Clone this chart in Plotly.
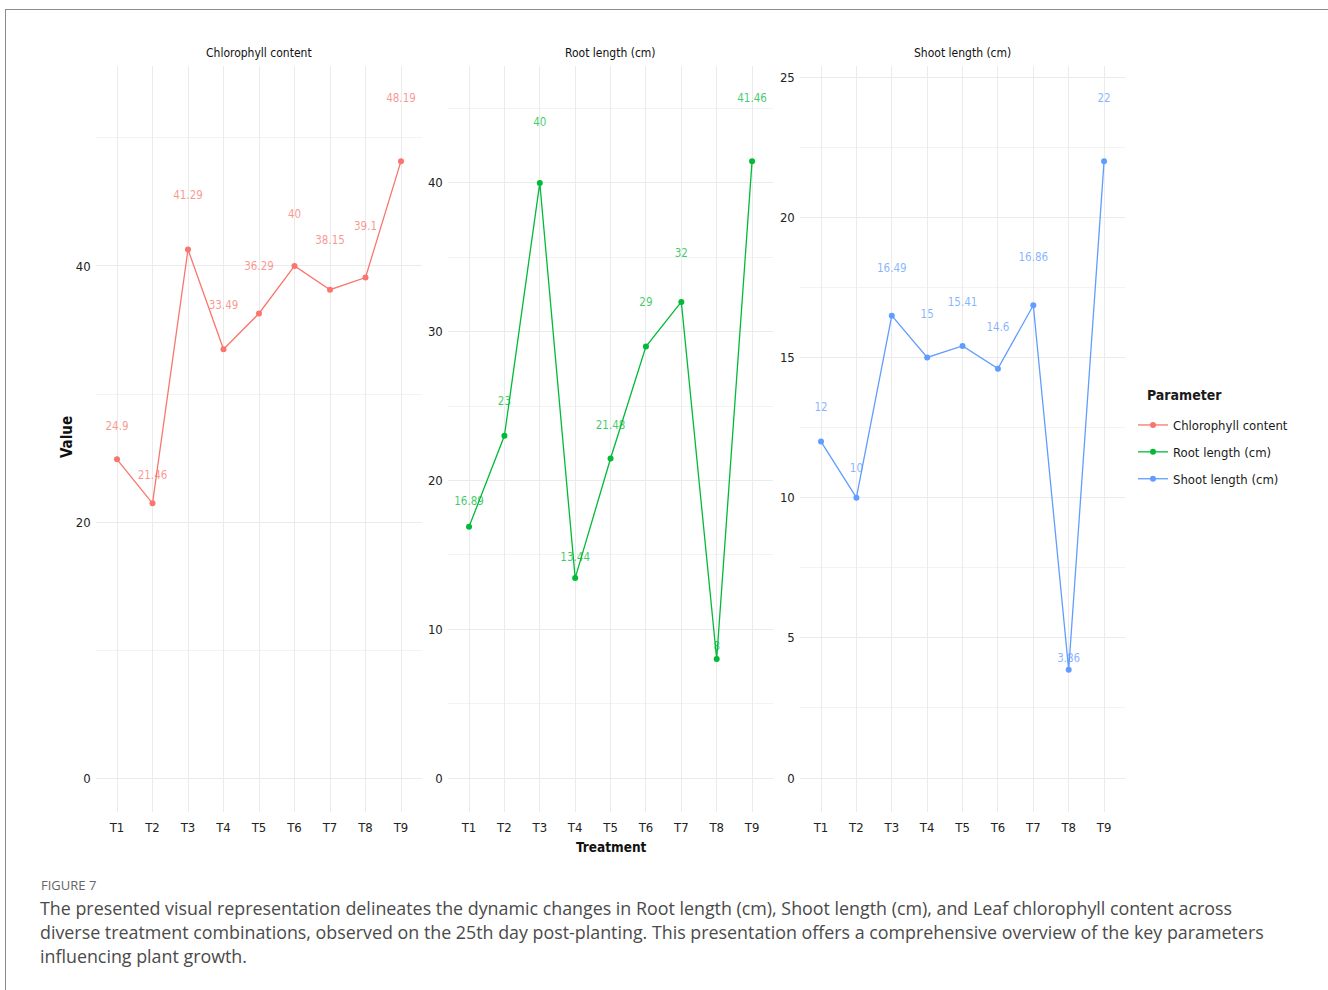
import plotly.graph_objects as go

W, H = 1328, 990

treatments = ["T1", "T2", "T3", "T4", "T5", "T6", "T7", "T8", "T9"]
chlorophyll = [24.9, 21.46, 41.29, 33.49, 36.29, 40, 38.15, 39.1, 48.19]
root_length = [16.89, 23, 40, 13.44, 21.48, 29, 32, 8, 41.46]
shoot_length = [12, 10, 16.49, 15, 15.41, 14.6, 16.86, 3.86, 22]

params = ["Chlorophyll content", "Root length (cm)", "Shoot length (cm)"]
series = [chlorophyll, root_length, shoot_length]
colors = ["#F8766D", "#00BA38", "#619CFF"]
label_colors = ["rgba(248,118,109,0.75)", "rgba(0,186,56,0.75)", "rgba(97,156,255,0.75)"]
y_ticks = [[0, 20, 40], [0, 10, 20, 30, 40], [0, 5, 10, 15, 20, 25]]
y_minor = [10, 5, 2.5]
y_ranges = [[-2.65, 55.66], [-2.28, 47.89], [-1.21, 25.41]]

FONT = "DejaVu Sans Condensed, Liberation Sans Narrow, Liberation Sans, Arial, sans-serif"
CAP_FONT = "Open Sans, Noto Sans, sans-serif"

panels_px = [(95.7, 422.3), (447.8, 773.3), (799.8, 1125.3)]
top_px, bot_px = 65.5, 812


def px_x(x):
    return x / W


def px_y(y):
    return 1 - y / H


fig = go.Figure()

for i, (name, vals, col, lcol) in enumerate(zip(params, series, colors, label_colors)):
    xa = "x" if i == 0 else f"x{i+1}"
    ya = "y" if i == 0 else f"y{i+1}"
    fig.add_trace(go.Scatter(
        x=treatments, y=vals, mode="lines+markers", name=name,
        line=dict(color=col, width=1.3), marker=dict(color=col, size=6),
        xaxis=xa, yaxis=ya, legendgroup=name, showlegend=True,
    ))
    fig.add_trace(go.Scatter(
        x=treatments, y=[v * 1.1 for v in vals], mode="text",
        text=[f"{v:g}" for v in vals], textposition="middle center",
        textfont=dict(family=FONT, size=11.5, color=lcol),
        xaxis=xa, yaxis=ya, showlegend=False, hoverinfo="skip",
    ))

layout = dict(
    width=W, height=H, margin=dict(l=0, r=0, t=0, b=0),
    paper_bgcolor="white", plot_bgcolor="white",
    font=dict(family=FONT, color="#333333"),
    legend=dict(
        x=px_x(1133), y=px_y(410), xanchor="left", yanchor="top",
        font=dict(family=FONT, size=13, color="#1a1a1a"),
        tracegroupgap=7, bgcolor="rgba(0,0,0,0)",
    ),
    showlegend=True,
)

for i in range(3):
    sfx = "" if i == 0 else str(i + 1)
    x0, x1 = panels_px[i]
    layout[f"xaxis{sfx}"] = dict(
        domain=[px_x(x0), px_x(x1)], anchor=f"y{sfx}",
        type="category", categoryorder="array", categoryarray=treatments,
        range=[-0.6, 8.6], showgrid=True, gridcolor="#EBEBEB", gridwidth=1,
        zeroline=False, showline=False, ticks="",
        tickfont=dict(family=FONT, size=13, color="#222222"),
        ticklabelstandoff=6,
    )
    layout[f"yaxis{sfx}"] = dict(
        domain=[px_y(bot_px), px_y(top_px)], anchor=f"x{sfx}",
        range=y_ranges[i], tickmode="array", tickvals=y_ticks[i],
        ticktext=[str(t) for t in y_ticks[i]],
        showgrid=True, gridcolor="#EBEBEB", gridwidth=1,
        minor=dict(dtick=y_minor[i], tick0=y_minor[i], showgrid=True,
                   gridcolor="#F3F3F3", gridwidth=1),
        zeroline=False, showline=False, ticks="",
        tickfont=dict(family=FONT, size=13, color="#222222"),
        ticklabelstandoff=4,
    )

fig.update_layout(**layout)

annotations = []
for i, name in enumerate(params):
    x0, x1 = panels_px[i]
    annotations.append(dict(
        text=name, x=px_x((x0 + x1) / 2), y=px_y(53), xref="paper", yref="paper",
        showarrow=False, xanchor="center", yanchor="middle",
        font=dict(family=FONT, size=12, color="#111111"),
    ))
annotations.append(dict(
    text="<b>Parameter</b>", x=px_x(1145), y=px_y(395), xref="paper", yref="paper",
    showarrow=False, xanchor="left", yanchor="middle",
    font=dict(family=FONT, size=14, color="#1a1a1a"),
))
annotations.append(dict(
    text="<b>Value</b>", x=px_x(67), y=px_y(437), xref="paper", yref="paper",
    showarrow=False, textangle=-90, xanchor="center", yanchor="middle",
    font=dict(family=FONT, size=15, color="#111111"),
))
annotations.append(dict(
    text="<b>Treatment</b>", x=px_x(611), y=px_y(847), xref="paper", yref="paper",
    showarrow=False, xanchor="center", yanchor="middle",
    font=dict(family=FONT, size=13.5, color="#111111"),
))
annotations.append(dict(
    text="FIGURE 7", x=px_x(39), y=px_y(885), xref="paper", yref="paper",
    showarrow=False, xanchor="left", yanchor="middle",
    font=dict(family=CAP_FONT, size=13, color="#666666"),
))
caption_lines = [
    "The presented visual representation delineates the dynamic changes in Root length (cm), Shoot length (cm), and Leaf chlorophyll content across",
    "diverse treatment combinations, observed on the 25th day post-planting. This presentation offers a comprehensive overview of the key parameters",
    "influencing plant growth.",
]
for k, line in enumerate(caption_lines):
    annotations.append(dict(
        text=line, x=px_x(38), y=px_y(908 + 24 * k), xref="paper", yref="paper",
        showarrow=False, xanchor="left", yanchor="middle",
        font=dict(family=CAP_FONT, size=17.85, color="#4A4A4A"),
    ))

fig.update_layout(annotations=annotations)

fig.update_layout(shapes=[
    dict(type="line", xref="paper", yref="paper", x0=px_x(5), x1=1, y0=px_y(9.5), y1=px_y(9.5),
         line=dict(color="#8C8C8C", width=1)),
    dict(type="line", xref="paper", yref="paper", x0=px_x(5.5), x1=px_x(5.5), y0=px_y(9.5), y1=0,
         line=dict(color="#8C8C8C", width=1)),
])

fig.write_html("out.html", config={"displayModeBar": False},
               post_script="document.body.style.margin='0px';document.body.style.overflow='hidden';")
